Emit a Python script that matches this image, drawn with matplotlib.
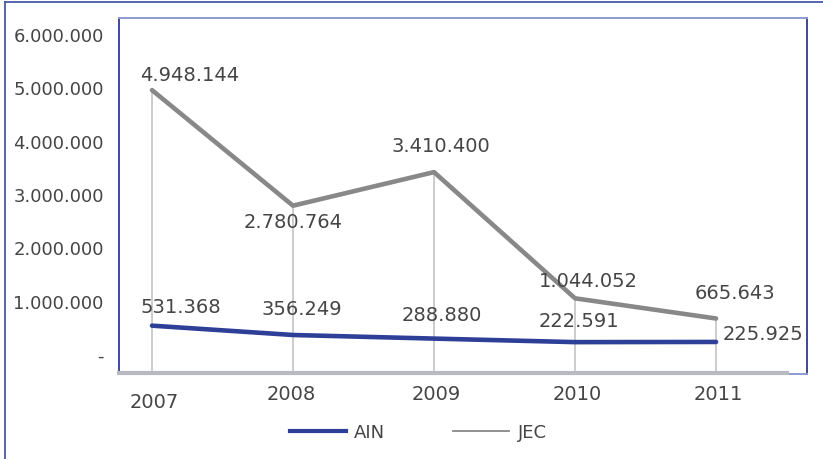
import matplotlib
matplotlib.use("Agg")
import matplotlib.pyplot as plt
from matplotlib.lines import Line2D
from matplotlib.ticker import FuncFormatter

# ---- data ----
years = ["2007", "2008", "2009", "2010", "2011"]
ain = [531368, 356249, 288880, 222591, 225925]
jec = [4948144, 2780764, 3410400, 1044052, 665643]
y_ticks = [0, 1000000, 2000000, 3000000, 4000000, 5000000, 6000000]
series_names = ["AIN", "JEC"]

# ---- style ----
plt.rcParams['font.family'] = ['DejaVu Sans']
TXT = "#454545"
BLUE = "#2E3F98"
GRAY = "#888888"

W, H = 823, 460
fig = plt.figure(figsize=(W / 100, H / 100), dpi=100)
ax = fig.add_axes([119 / W, (H - 375) / H, (807 - 119) / W, (375 - 19) / H])

x = list(range(len(years)))
ax.set_xlim(-0.234, 4.645)
ax.set_ylim(-375000, 6300000)

# drop lines from JEC points
ax.vlines(x, -375000, jec, color="#c8c8c8", lw=1.3, zorder=1)

ax.plot(x, jec, color=GRAY, lw=3.3, solid_capstyle="round", zorder=3)
ax.plot(x, ain, color=BLUE, lw=3.3, solid_capstyle="round", zorder=4)

def fmt_num(v):
    v = int(round(v))
    return "-" if v == 0 else f"{v:,}".replace(",", ".")

# data labels (offsets in pixels: dx right, dy down)
jec_off = [(38, -16), (0, 16), (7, -27), (13, -18), (19, -26)]
ain_off = [(29, -19), (9, -27), (8, -24), (4, -22), (47, -8)]
for i in x:
    ax.annotate(fmt_num(jec[i]), xy=(i, jec[i]), xytext=(jec_off[i][0], -jec_off[i][1]),
                textcoords="offset pixels", ha="center", va="center",
                fontsize=14, color=TXT, zorder=5)
    ax.annotate(fmt_num(ain[i]), xy=(i, ain[i]), xytext=(ain_off[i][0], -ain_off[i][1]),
                textcoords="offset pixels", ha="center", va="center",
                fontsize=14, color=TXT, zorder=5)

# y axis
ax.set_yticks(y_ticks)
ax.yaxis.set_major_formatter(FuncFormatter(lambda v, p: fmt_num(v)))
ax.tick_params(axis="y", length=0, pad=11, labelsize=13, labelcolor=TXT)

# x axis labels
ax.set_xticks([])
x_lab_off = [(2, 28), (-2, 20), (2, 20), (2, 20), (2, 20)]
for i, yr in enumerate(years):
    ax.annotate(yr, xy=(i, 0), xycoords=ax.get_xaxis_transform(),
                xytext=(x_lab_off[i][0], -x_lab_off[i][1]), textcoords="offset pixels",
                ha="center", va="center", fontsize=14, color=TXT, annotation_clip=False)

# spines
ax.spines["top"].set_color("#8C9BD0")
ax.spines["right"].set_color("#3A4A9A")
ax.spines["left"].set_color("#3A4AA0")
ax.spines["bottom"].set_color("#8C9BD0")
for s in ax.spines.values():
    s.set_linewidth(1.4)
ax.plot([0, (787 - 119) / (807 - 119)], [0.004, 0.004], transform=ax.transAxes,
        color="#b8b9c2", lw=3, clip_on=False, zorder=6)

# outer border (top and left)
fig.add_artist(Line2D([5 / W, 5 / W], [0, 1 - 3 / H], color="#4A5AA8", lw=1.3))
fig.add_artist(Line2D([5 / W, 1], [1 - 3 / H, 1 - 3 / H], color="#4A5AA8", lw=1.3))

# legend
handles = [Line2D([], [], color=BLUE, lw=3), Line2D([], [], color=GRAY, lw=1.3)]
leg = fig.legend(handles, series_names, loc="center", bbox_to_anchor=(418 / W, 1 - 433 / H),
                 ncol=2, frameon=False, fontsize=13, handlelength=3.1,
                 handletextpad=0.45, columnspacing=3.8)
for t in leg.get_texts():
    t.set_color(TXT)

fig.savefig("out.png", dpi=100)
